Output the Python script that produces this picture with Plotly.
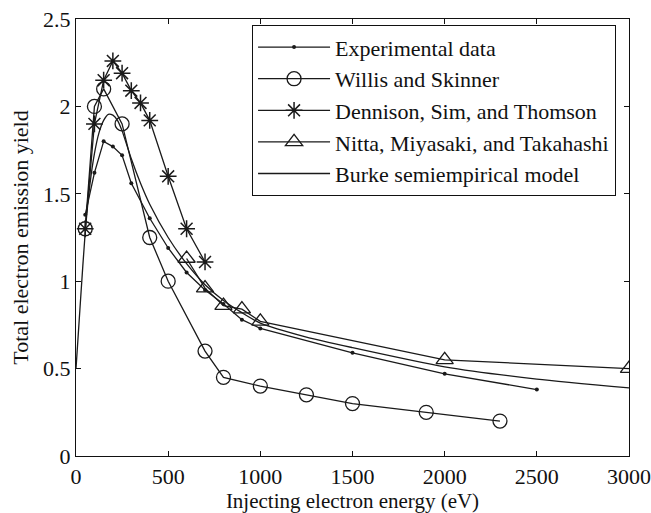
import plotly.graph_objects as go

# Experimental data
exp_x = [50, 100, 150, 200, 250, 300, 400, 500, 600, 700, 800, 900, 1000, 1500, 2000, 2500]
exp_y = [1.38, 1.62, 1.80, 1.77, 1.72, 1.56, 1.36, 1.19, 1.05, 0.95, 0.87, 0.78, 0.73, 0.59, 0.47, 0.38]

# Willis and Skinner
ws_x = [50, 100, 150, 250, 400, 500, 700, 800, 1000, 1250, 1500, 1900, 2300]
ws_y = [1.30, 2.00, 2.10, 1.90, 1.25, 1.00, 0.60, 0.45, 0.40, 0.35, 0.30, 0.25, 0.20]

# Dennison, Sim, and Thomson
dst_x = [50, 100, 150, 200, 250, 300, 350, 400, 500, 600, 700]
dst_y = [1.30, 1.90, 2.15, 2.26, 2.19, 2.09, 2.02, 1.92, 1.60, 1.30, 1.11]

# Nitta, Miyasaki, and Takahashi
nmt_x = [600, 700, 800, 900, 1000, 2000, 3000]
nmt_y = [1.13, 0.96, 0.86, 0.84, 0.77, 0.55, 0.50]

# Burke semiempirical model
bk_x = [0, 25, 50, 75, 100, 125, 150, 175, 200, 225, 250, 300, 350, 400, 500, 600, 700, 800, 900, 1000, 1250, 1500, 2000, 2500, 3000]
bk_y = [0.50, 0.90, 1.28, 1.55, 1.73, 1.85, 1.92, 1.955, 1.95, 1.92, 1.86, 1.70, 1.56, 1.44, 1.25, 1.10, 0.98, 0.89, 0.82, 0.76, 0.68, 0.62, 0.51, 0.44, 0.39]

x_ticks = [0, 500, 1000, 1500, 2000, 2500, 3000]
y_ticks = [0, 0.5, 1, 1.5, 2, 2.5]

C = "#1a1a1a"
LW = 1.3

fig = go.Figure()
fig.add_trace(go.Scatter(x=exp_x, y=exp_y, mode="lines+markers", name="Experimental data",
                         line=dict(color=C, width=LW), marker=dict(symbol="circle", size=4, color=C)))
fig.add_trace(go.Scatter(x=ws_x, y=ws_y, mode="lines+markers", name="Willis and Skinner",
                         line=dict(color=C, width=LW),
                         marker=dict(symbol="circle-open", size=14, color=C, line=dict(width=1.3, color=C))))
fig.add_trace(go.Scatter(x=dst_x, y=dst_y, mode="lines+markers", name="Dennison, Sim, and Thomson",
                         line=dict(color=C, width=LW),
                         marker=dict(symbol="asterisk-open", size=14, color=C, line=dict(width=1.5, color=C))))
fig.add_trace(go.Scatter(x=nmt_x, y=nmt_y, mode="lines+markers", name="Nitta, Miyasaki, and Takahashi",
                         line=dict(color=C, width=LW),
                         marker=dict(symbol="triangle-up-open", size=15, color=C, line=dict(width=1.3, color=C))))
fig.add_trace(go.Scatter(x=bk_x, y=bk_y, mode="lines", name="Burke semiempirical model",
                         line=dict(color=C, width=LW, shape="spline", smoothing=0.6)))

font = "Liberation Serif"
fig.update_layout(
    width=651, height=513,
    margin=dict(l=76, r=22, t=19, b=57, autoexpand=False),
    paper_bgcolor="white", plot_bgcolor="white",
    font=dict(family=font, size=22, color="#111"),
    showlegend=True,
    legend=dict(x=0.318, y=0.986, xanchor="left", yanchor="top",
                bordercolor="#111", borderwidth=1.2, bgcolor="white",
                font=dict(family=font, size=22, color="#111"),
                itemwidth=72, tracegroupgap=0),
)
fig.update_xaxes(range=[0, 3000], tickvals=x_ticks, ticktext=[str(v) for v in x_ticks],
                 showgrid=False, zeroline=False, showline=True, linecolor="#111", linewidth=1.3,
                 mirror="ticks", ticks="inside", ticklen=5, tickcolor="#111", ticklabelstandoff=0,
                 title=dict(text="Injecting electron energy (eV)", standoff=4, font=dict(family=font, size=21)),
                 tickfont=dict(family=font, size=22))
fig.update_yaxes(range=[0, 2.5], tickvals=y_ticks, ticktext=["0", "0.5", "1", "1.5", "2", "2.5"],
                 showgrid=False, zeroline=False, showline=True, linecolor="#111", linewidth=1.3,
                 mirror="ticks", ticks="inside", ticklen=5, tickcolor="#111",
                 title=dict(text="Total electron emission yield", standoff=8, font=dict(family=font, size=22)),
                 tickfont=dict(family=font, size=22))

fig.write_html("out.html")
